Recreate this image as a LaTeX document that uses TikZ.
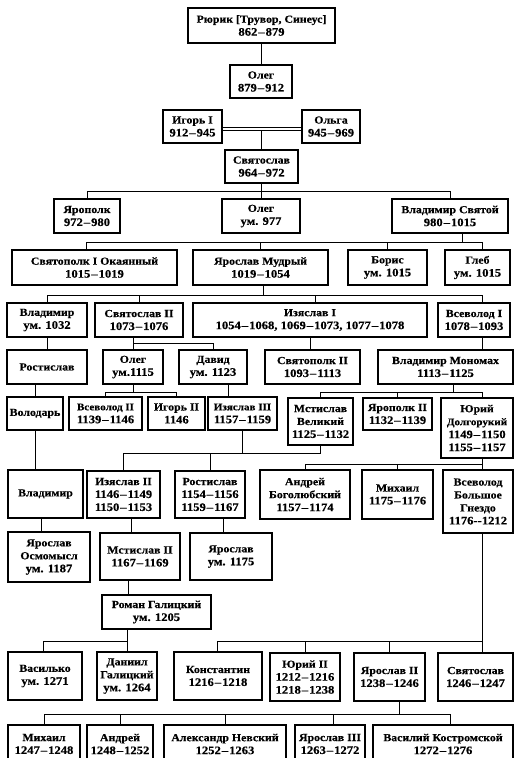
\documentclass[tikz,border=0pt]{standalone}
\usepackage{fontspec}
\setmainfont{Liberation Serif}[FakeStretch=1.1, BoldFeatures={FakeBold=0.35}]
\newcommand\yr[1]{{\fontsize{11.5}{13}\selectfont #1}}
\newcommand\sm[1]{{\fontsize{10.1}{13}\selectfont #1}}
\newcommand\dd{\kern1pt–\kern1pt}
\begin{document}
\begin{tikzpicture}[x=1bp,y=-1bp]
\tikzset{
  box/.style={draw, line width=1.2pt, inner sep=0pt, align=center,
    font=\fontsize{10.8}{13}\selectfont\bfseries},
  ln/.style={line width=0.95pt}
}
\newcommand\bx[6]{\node[box, minimum width={(#3-#2)*1bp}, minimum height={(#5-#4)*1bp}] (#1) at ({(#2+#3)/2},{(#4+#5)/2}) {#6};}
\fill[white] (0,0) rectangle (515,758);
\useasboundingbox (0,0) rectangle (515,758);
\coordinate (rc) at (482,0);
% row 1-3
\bx{rurik}{188}{335}{8}{43}{Рюрик [Трувор, Синеус]\\\yr{862\dd879}}
\bx{oleg1}{230}{292}{65}{98}{Олег\\\yr{879\dd912}}
\bx{igor}{163}{222}{110}{143}{Игорь I\\\yr{912\dd945}}
\bx{olga}{302}{360}{110}{143}{Ольга\\\yr{945\dd969}}
\bx{svyat}{225}{298}{150}{183}{Святослав\\\yr{964\dd972}}
% row 4
\bx{yaropolk}{54}{120}{199}{233}{Ярополк\\\yr{972\dd980}}
\bx{oleg977}{222}{300}{199}{233}{Олег\\\yr{ум. 977}}
\bx{vladsv}{392}{508}{199}{233}{Владимир Святой\\\yr{980\dd1015}}
% row 5
\bx{svyatopolk}{12}{177}{250}{285}{Святополк I Окаянный\\\yr{1015\dd1019}}
\bx{yaroslavm}{193}{328}{250}{285}{Ярослав Мудрый\\\yr{1019\dd1054}}
\bx{boris}{348}{427}{250}{285}{Борис\\\yr{ум. 1015}}
\bx{gleb}{445}{510}{250}{285}{Глеб\\\yr{ум. 1015}}
% row 6
\bx{vlad1032}{7}{87}{303}{337}{Владимир\\\yr{ум. 1032}}
\bx{svyat2}{95}{183}{303}{337}{Святослав II\\\yr{1073\dd1076}}
\bx{izyaslav1}{193}{427}{303}{337}{Изяслав I\\\yr{1054\dd1068, 1069\dd1073, 1077\dd1078}}
\bx{vsevolod1}{438}{510}{303}{337}{Всеволод I\\\yr{1078\dd1093}}
% row 7
\bx{rostislav}{7}{87}{350}{384}{Ростислав}
\bx{oleg1115}{103}{163}{350}{384}{Олег\\\yr{ум.1115}}
\bx{david}{179}{247}{350}{384}{Давид\\\yr{ум. 1123}}
\bx{svyatopolk2}{265}{360}{350}{384}{Святополк II\\\yr{1093\dd1113}}
\bx{monomakh}{378}{513}{350}{384}{Владимир Мономах\\\yr{1113\dd1125}}
% row 8
\bx{volodar}{7}{63}{397}{430}{Володарь}
\bx{vsevolod2}{69}{142}{397}{430}{\sm{Всеволод II}\\\yr{1139\dd1146}}
\bx{igor2}{148}{205}{397}{430}{Игорь II\\\yr{1146}}
\bx{izyaslav3}{208}{277}{397}{430}{\sm{Изяслав III}\\\yr{1157\dd1159}}
\bx{mstislavv}{288}{353}{398}{445}{Мстислав\\Великий\\\yr{1125\dd1132}}
\bx{yaropolk2}{363}{432}{398}{430}{Ярополк II\\\yr{1132\dd1139}}
\bx{yuri}{441}{513}{398}{458}{Юрий\\\sm{Долгорукий}\\\yr{1149\dd1150}\\\yr{1155\dd1157}}
% row 9
\bx{vladimiro}{8}{83}{470}{518}{Владимир}
\bx{izyaslav2}{87}{160}{471}{518}{Изяслав II\\\yr{1146\dd1149}\\\yr{1150\dd1153}}
\bx{rostislav2}{175}{245}{471}{518}{Ростислав\\\yr{1154\dd1156}\\\yr{1159\dd1167}}
\bx{andreib}{260}{350}{470}{519}{Андрей\\Боголюбский\\\yr{1157\dd1174}}
\bx{mikhail}{362}{433}{470}{519}{Михаил\\\yr{1175\dd1176}}
\bx{vsevolodbg}{443}{513}{470}{533}{Всеволод\\Большое\\Гнездо\\\yr{1176-{}-1212}}
% row 10
\bx{yaroslavo}{8}{90}{532}{582}{Ярослав\\Осмомысл\\\yr{ум. 1187}}
\bx{mstislav2}{100}{180}{533}{580}{Мстислав II\\\yr{1167\dd1169}}
\bx{yaroslavb}{190}{272}{533}{580}{Ярослав\\\yr{ум. 1175}}
\bx{roman}{102}{211}{595}{629}{Роман Галицкий\\\yr{ум. 1205}}
% row 11
\bx{vasilko}{8}{82}{652}{700}{Василько\\\yr{ум. 1271}}
\bx{daniil}{97}{157}{652}{700}{Даниил\\Галицкий\\\yr{ум. 1264}}
\bx{konstantin}{174}{262}{652}{700}{Константин\\\yr{1216\dd1218}}
\bx{yuri2}{270}{340}{653}{701}{Юрий II\\\yr{1212\dd1216}\\\yr{1218\dd1238}}
\bx{yaroslav2}{354}{425}{653}{701}{Ярослав II\\\yr{1238\dd1246}}
\bx{svyatoslav3}{438}{513}{653}{701}{Святослав\\\yr{1246\dd1247}}
% row 12
\bx{mikhail2}{8}{80}{725}{763}{Михаил\\\yr{1247\dd1248}}
\bx{andrei2}{87}{153}{725}{763}{Андрей\\\yr{1248\dd1252}}
\bx{alexander}{164}{286}{725}{763}{Александр Невский\\\yr{1252\dd1263}}
\bx{yaroslav3}{295}{365}{725}{763}{Ярослав III\\\yr{1263\dd1272}}
\bx{vasily}{373}{513}{725}{763}{Василий Костромской\\\yr{1272\dd1276}}
% bar levels
\coordinate (b1) at (0,191);
\coordinate (b2) at (0,242);
\coordinate (b3) at (0,295);
\coordinate (b4) at (0,343);
\coordinate (b5) at (0,392);
\coordinate (b6) at (0,453);
\coordinate (b7) at (0,464);
\coordinate (b8) at (0,641);
\coordinate (b9) at (0,714);
% connectors
\draw[ln] (rurik.south) -- (rurik.south |- oleg1.north);
\draw[ln,double,double distance=2pt] ([yshift=-2.5pt]igor.east) -- ([yshift=-2.5pt]olga.west);
\draw[ln] (svyat.north) -- ++(0,-19);
\draw[ln] (svyat.south) -- (svyat.south |- oleg977.north);
\draw[ln] (yaropolk.north) -- (yaropolk.north |- b1) -- (vladsv.north |- b1) -- (vladsv.north);
% Vladimir Svyatoi
\draw[ln] ([xshift=13pt]vladsv.south) -- ([xshift=13pt]vladsv.south |- b2);
\draw[ln] ([xshift=-8pt]svyatopolk.north) -- ([xshift=-8pt]svyatopolk.north |- b2) -- (rc |- b2) -- (gleb.north -| rc);
\draw[ln] (yaroslavm.north) -- (yaroslavm.north |- b2);
\draw[ln] (boris.north) -- (boris.north |- b2);
% Yaroslav Mudry
\draw[ln] ([xshift=2.5pt]yaroslavm.south) -- ([xshift=2.5pt]yaroslavm.south |- b3);
\draw[ln] (vlad1032.north) -- (vlad1032.north |- b3) -- (rc |- b3) -- (vsevolod1.north -| rc);
\draw[ln] (svyat2.north) -- (svyat2.north |- b3);
\draw[ln] ([xshift=5pt]izyaslav1.north) -- ([xshift=5pt]izyaslav1.north |- b3);
% row 6 -> 7
\draw[ln] (vlad1032.south) -- (vlad1032.south |- rostislav.north);
\draw[ln] (oleg1115.north |- svyat2.south) -- (oleg1115.north);
\draw[ln] (oleg1115.north |- b4) -- (david.north |- b4) -- (david.north);
\draw[ln] (izyaslav1.south) -- (izyaslav1.south |- svyatopolk2.north);
\draw[ln] (vsevolod1.south -| rc) -- (monomakh.north -| rc);
% row 7 -> 8
\draw[ln] (volodar.north |- rostislav.south) -- (volodar.north);
\draw[ln] (oleg1115.south) -- (oleg1115.south |- b5);
\draw[ln] (vsevolod2.north) -- (vsevolod2.north |- b5) -- (igor2.north |- b5) -- (igor2.north);
\draw[ln] ([xshift=16pt]david.south) -- ([xshift=16pt]david.south |- izyaslav3.north);
\draw[ln] ([xshift=7.5pt]monomakh.south) -- ([xshift=7.5pt]monomakh.south |- b5);
\draw[ln] (mstislavv.north) -- (mstislavv.north |- b5) -- (rc |- b5) -- (yuri.north -| rc);
\draw[ln] (yaropolk2.north) -- (yaropolk2.north |- b5);
% row 8 -> 9
\draw[ln] (volodar.south) -- (volodar.south |- vladimiro.north);
\draw[ln] (mstislavv.south) -- (mstislavv.south |- b6) -- (izyaslav2.north |- b6) -- (izyaslav2.north);
\draw[ln] (izyaslav3.south) -- (izyaslav3.south |- b6);
\draw[ln] (rostislav2.north) -- (rostislav2.north |- b6);
\draw[ln] (yuri.south -| rc) -- (rc |- b7);
\draw[ln] (andreib.north) -- (andreib.north |- b7) -- (rc |- b7) -- (vsevolodbg.north -| rc);
\draw[ln] (mikhail.north) -- (mikhail.north |- b7);
% row 9 -> 10
\draw[ln] ([xshift=-4pt]vladimiro.south) -- ([xshift=-4pt]vladimiro.south |- yaroslavo.north);
\draw[ln] ([xshift=7.5pt]izyaslav2.south) -- ([xshift=7.5pt]izyaslav2.south |- mstislav2.north);
\draw[ln] ([xshift=14pt]rostislav2.south) -- ([xshift=14pt]rostislav2.south |- yaroslavb.north);
\draw[ln] ([xshift=-12pt]mstislav2.south) -- ([xshift=-12pt]mstislav2.south |- roman.north);
% Roman
\draw[ln] (daniil.north |- roman.south) -- (daniil.north);
\draw[ln] ([xshift=-2pt]vasilko.north) -- ([xshift=-2pt]vasilko.north |- b8) -- (daniil.north |- b8);
% Vsevolod Bolshoe Gnezdo
\draw[ln] (vsevolodbg.south -| rc) -- (svyatoslav3.north -| rc);
\draw[ln] ([xshift=-1pt]konstantin.north) -- ([xshift=-1pt]konstantin.north |- b8) -- (rc |- b8);
\draw[ln] (yuri2.north) -- (yuri2.north |- b8);
\draw[ln] (yaroslav2.north) -- (yaroslav2.north |- b8);
% Yaroslav II
\draw[ln] ([xshift=10.5pt]yaroslav2.south) -- ([xshift=10.5pt]yaroslav2.south |- b9);
\draw[ln] (mikhail2.north) -- (mikhail2.north |- b9) -- ([xshift=7pt]vasily.north |- b9) -- ([xshift=7pt]vasily.north);
\draw[ln] (andrei2.north) -- (andrei2.north |- b9);
\draw[ln] (alexander.north) -- (alexander.north |- b9);
\draw[ln] ([xshift=3pt]yaroslav3.north) -- ([xshift=3pt]yaroslav3.north |- b9);
\end{tikzpicture}
\end{document}
